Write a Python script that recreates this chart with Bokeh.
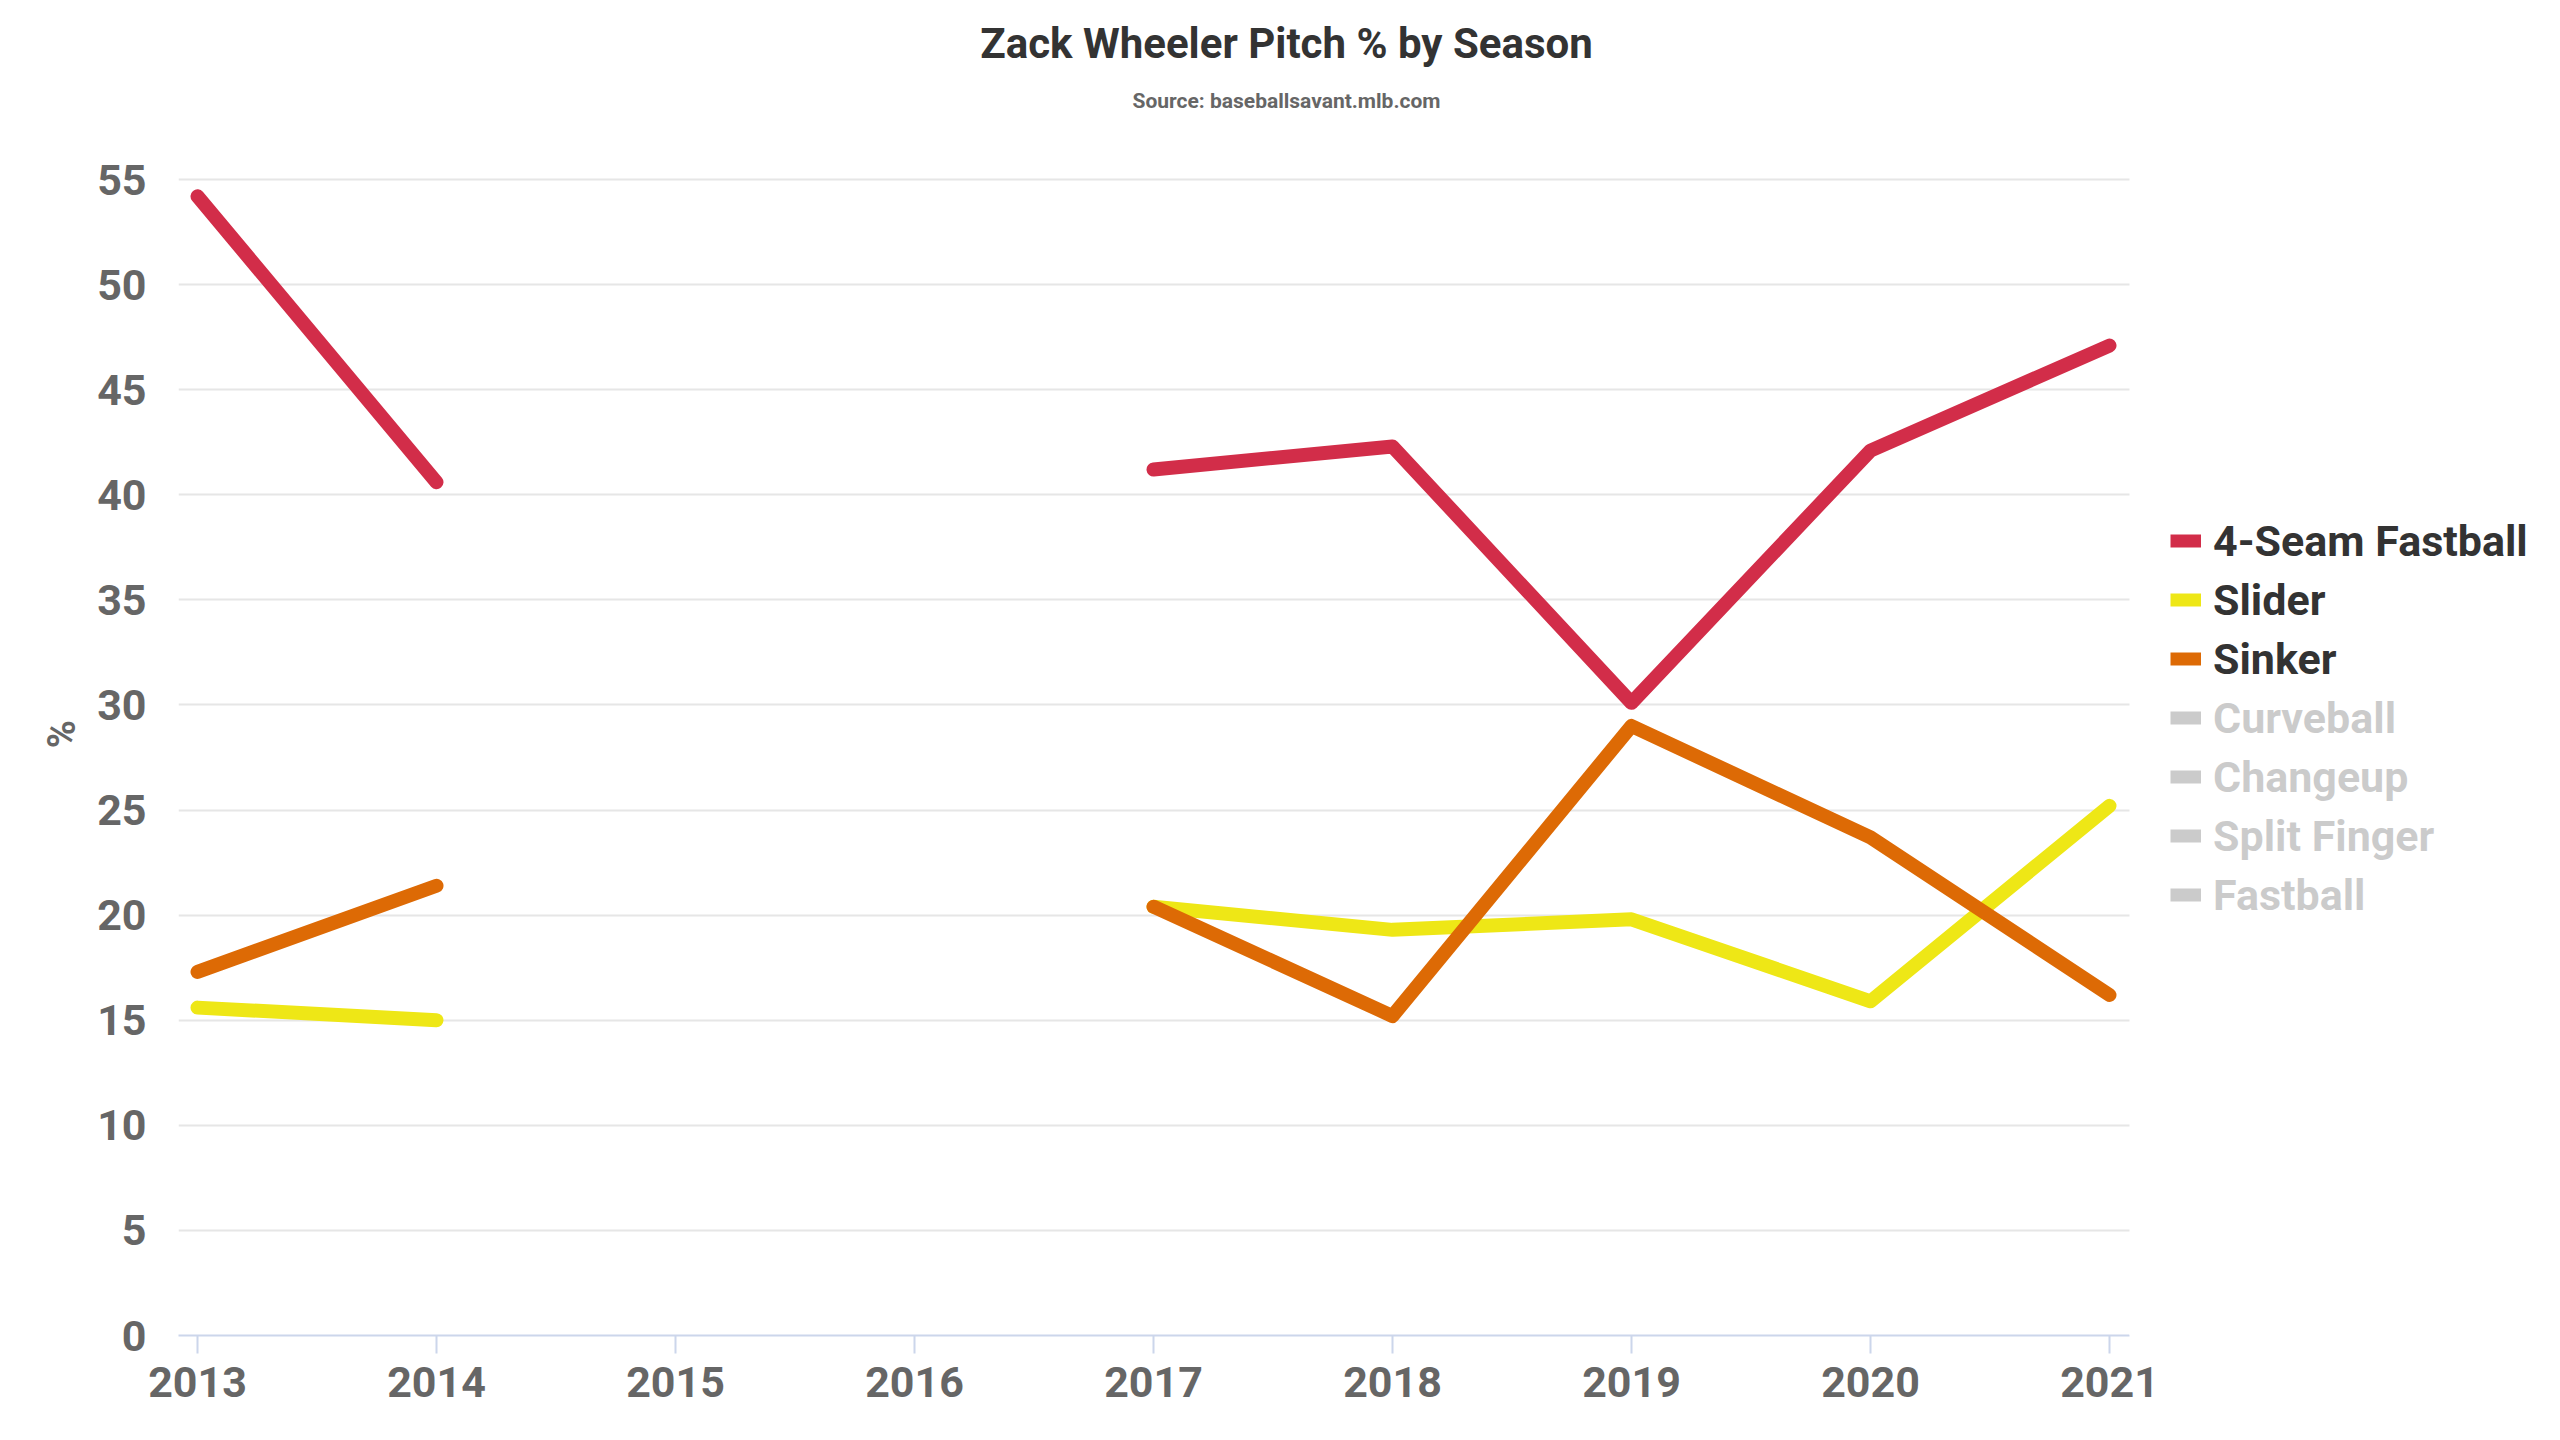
from bokeh.plotting import figure
from bokeh.models import Range1d, FixedTicker, Legend, LegendItem, Label, BoxAnnotation
from bokeh.embed import file_html
from bokeh.resources import INLINE

nan = float("nan")

# ---- data ----
years = [2013, 2014, 2015, 2016, 2017, 2018, 2019, 2020, 2021]
four_seam = [54.2, 40.6, nan, nan, 41.2, 42.3, 30.1, 42.1, 47.1]
slider = [15.6, 15.0, nan, nan, 20.4, 19.3, 19.8, 15.9, 25.2]
sinker = [17.3, 21.4, nan, nan, 20.4, 15.2, 29.0, 23.7, 16.2]

series_names = ["4-Seam Fastball", "Slider", "Sinker",
                "Curveball", "Changeup", "Split Finger", "Fastball"]
series_colors = ["#d22d49", "#eee716", "#dd6a05",
                 "#333333", "#333333", "#333333", "#333333"]
series_hidden = [False, False, False, True, True, True, True]
y_ticks = [0, 5, 10, 15, 20, 25, 30, 35, 40, 45, 50, 55]

title_text = "Zack Wheeler Pitch % by Season"
subtitle_text = "Source: baseballsavant.mlb.com"
y_label = "%"

FONT = "Roboto"

# ---- geometry (page pixels) ----
W, H = 2544, 1424
FL = 178                 # frame left
FB = 1335                # frame bottom (x axis)
PLOT_TOP = 179           # where y = 55 sits
PLOT_RIGHT = 2129        # where the plotted area ends
X0, X1 = 2012.9205, 2021.0837
Y0, Y1 = 0, 55
px_per_year = (PLOT_RIGHT - FL) / (X1 - X0)
px_per_unit = (FB - PLOT_TOP) / (Y1 - Y0)
x_end = X0 + (W - FL) / px_per_year
y_end = FB / px_per_unit

p = figure(width=W, height=H,
           x_range=Range1d(X0, x_end), y_range=Range1d(Y0, y_end),
           output_backend="svg", toolbar_location=None,
           min_border_left=FL, min_border_right=0,
           min_border_top=0, min_border_bottom=H - FB)
p.outline_line_color = None
p.title.text = ""

# x axis
p.xaxis.ticker = FixedTicker(ticks=years)
p.xaxis.bounds = (X0, X1)
p.xaxis.axis_line_color = "#ccd6eb"
p.xaxis.axis_line_width = 2
p.xaxis.major_tick_line_color = "#ccd6eb"
p.xaxis.major_tick_line_width = 2
p.xaxis.major_tick_out = 18
p.xaxis.major_tick_in = 0
p.xaxis.minor_tick_line_color = None
p.xaxis.major_label_standoff = 13
p.xaxis.major_label_text_font = FONT
p.xaxis.major_label_text_font_size = "43px"
p.xaxis.major_label_text_font_style = "bold"
p.xaxis.major_label_text_color = "#666666"

# y axis (label padded with no-break spaces so the "%" sits lower, as in the original)
p.yaxis.ticker = FixedTicker(ticks=y_ticks)
p.yaxis.axis_line_color = None
p.yaxis.major_tick_line_color = None
p.yaxis.minor_tick_line_color = None
p.yaxis.major_label_standoff = 26
p.yaxis.major_label_text_font = FONT
p.yaxis.major_label_text_font_size = "43px"
p.yaxis.major_label_text_font_style = "bold"
p.yaxis.major_label_text_color = "#666666"
p.yaxis.axis_label = y_label + "\u00a0" * 14
p.yaxis.axis_label_text_font = FONT
p.yaxis.axis_label_text_font_size = "38px"
p.yaxis.axis_label_text_font_style = "bold"
p.yaxis.axis_label_text_color = "#666666"
p.yaxis.axis_label_standoff = 10

p.xgrid.visible = False
p.ygrid.ticker = FixedTicker(ticks=y_ticks)
p.ygrid.grid_line_color = "#e6e6e6"
p.ygrid.grid_line_width = 2

# data lines
for vals, color in [(four_seam, series_colors[0]), (slider, series_colors[1]), (sinker, series_colors[2])]:
    p.line(years, vals, line_color=color, line_width=14, line_cap="round", line_join="round")

# keep grid lines to the plotted area only
p.add_layout(BoxAnnotation(left=X1, fill_color="white", fill_alpha=1.0, line_alpha=0))

# titles (screen units from the frame's bottom-left corner)
p.add_layout(Label(x=1286 - FL, y=FB - 43, x_units="screen", y_units="screen",
                   text=title_text, text_align="center", text_baseline="middle",
                   text_font=FONT, text_font_size="42px", text_font_style="bold",
                   text_color="#333333"))
p.add_layout(Label(x=1286 - FL, y=FB - 100, x_units="screen", y_units="screen",
                   text=subtitle_text, text_align="center", text_baseline="middle",
                   text_font=FONT, text_font_size="21px", text_font_style="bold",
                   text_color="#666666"))

# legend proxies (square-ended symbols, nothing drawn in the plot)
items = []
for name, color, hidden in zip(series_names, series_colors, series_hidden):
    r = p.line(x=[years[0]], y=[nan], line_color=color, line_width=13, line_cap="butt")
    r.visible = not hidden
    items.append(LegendItem(label=name, renderers=[r]))

legend = Legend(items=items, location=(2170 - FL, 415), orientation="vertical",
                click_policy="hide",
                glyph_width=31, glyph_height=51, label_standoff=12,
                label_height=51, spacing=8, padding=0, margin=0,
                border_line_color=None, background_fill_alpha=0,
                label_text_font=FONT, label_text_font_size="43px",
                label_text_font_style="bold", label_text_color="#333333",
                inactive_fill_color="white", inactive_fill_alpha=0.75)
p.add_layout(legend, "center")

open("out.html", "w").write(file_html(p, INLINE))
